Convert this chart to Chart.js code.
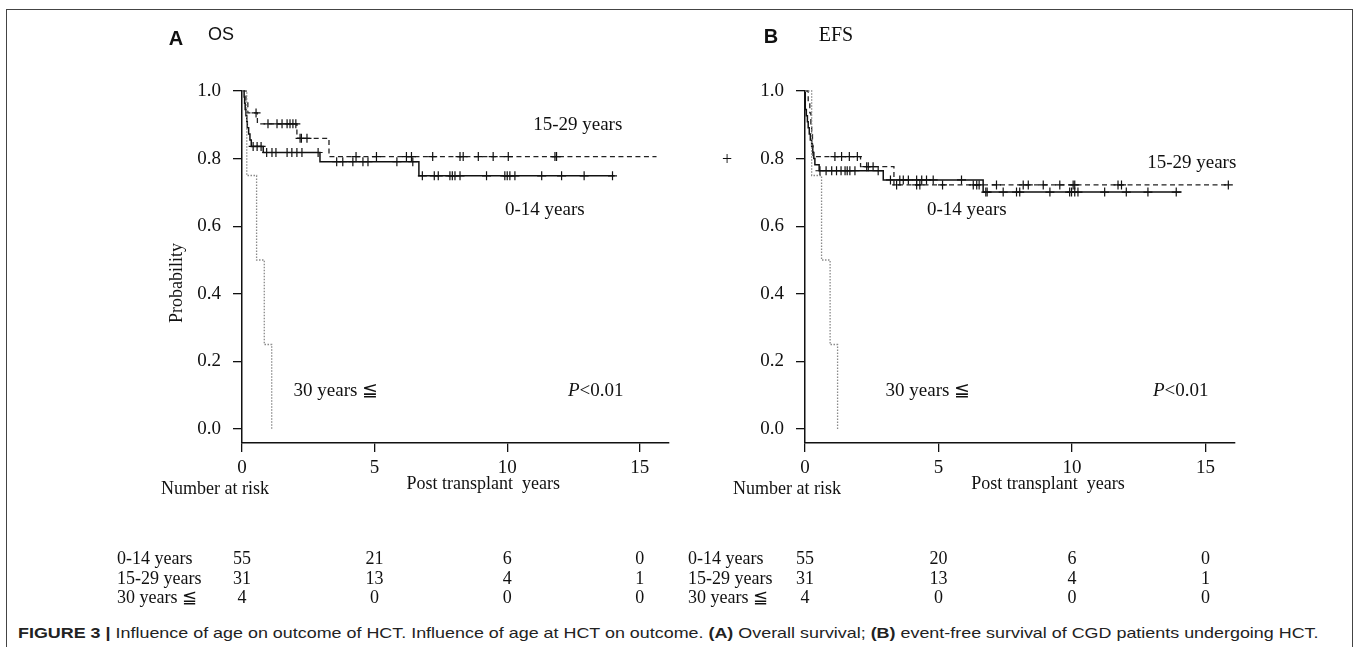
<!DOCTYPE html>
<html>
<head>
<meta charset="utf-8">
<script src="https://cdn.jsdelivr.net/npm/chart.js@4.4.1/dist/chart.umd.min.js"></script>
<style>
  html, body { margin: 0; padding: 0; background: #fff; }
  #page { position: relative; width: 1357px; height: 647px; overflow: hidden; font-family: "Liberation Serif", serif; color: #111; }
  #frame { position: absolute; left: 6px; top: 9px; width: 1345px; height: 700px; border: 1px solid #444; border-bottom: none; }
  canvas { position: absolute; top: 0; }
  .t { position: absolute; white-space: nowrap; line-height: 1; transform: translate(-50%, -50%); }
  .l { position: absolute; white-space: nowrap; line-height: 1; transform: translate(0, -50%); }
  #caption { position: absolute; left: 18px; top: 624px; white-space: nowrap; font-family: "Liberation Sans", sans-serif; font-size: 15px; color: #222; transform-origin: 0 0; }
</style>
</head>
<body>
<div id="page">
  <div id="frame"></div>
  <canvas id="chartA" width="680" height="620" style="left:0"></canvas>
  <canvas id="chartB" width="677" height="620" style="left:680px"></canvas>
  <div id="caption"><b>FIGURE 3 |</b> Influence of age on outcome of HCT. Influence of age at HCT on outcome. <b>(A)</b> Overall survival; <b>(B)</b> event-free survival of CGD patients undergoing HCT.</div>
</div>
<script>
// axis ticks and groups
const years = [0, 5, 10, 15];
const yTicks = [0, 0.2, 0.4, 0.6, 0.8, 1.0];
const groups = ['0-14 years', '15-29 years', '30 years \u2266'];

// OS: step times / survival, censor times
const osT014 = [0, 0.08, 0.1, 0.12, 0.15, 0.18, 0.2, 0.25, 0.3, 0.35, 0.8, 2.94, 6.67, 14.05];
const osS014 = [1, 0.982, 0.964, 0.945, 0.927, 0.909, 0.891, 0.873, 0.855, 0.836, 0.818, 0.791, 0.749, 0.749];
const osC014 = [0.42, 0.57, 0.72, 0.93, 1.13, 1.28, 1.7, 1.88, 2.07, 2.26, 2.87, 3.57, 3.8, 4.18, 4.56, 4.75, 5.84, 6.44,
  6.8, 7.25, 7.4, 7.84, 7.93, 8.03, 8.22, 9.22, 9.91, 10.0, 10.1, 10.29, 11.3, 12.05, 12.9, 13.97];
const osT1529 = [0, 0.15, 0.22, 0.58, 2.07, 3.28, 15.63];
const osS1529 = [1, 0.968, 0.935, 0.903, 0.86, 0.806, 0.806];
const osC1529 = [0.53, 0.98, 1.32, 1.51, 1.7, 1.81, 1.92, 2.03, 2.19, 2.24, 2.45, 4.3, 5.07, 6.2, 6.39, 7.19,
  8.22, 8.34, 8.91, 9.47, 10.04, 11.8, 11.86];
const osT30 = [0, 0.18, 0.55, 0.84, 1.12];
const osS30 = [1, 0.75, 0.5, 0.25, 0];

// EFS
const efsT014 = [0, 0.01, 0.05, 0.09, 0.12, 0.16, 0.2, 0.25, 0.29, 0.33, 0.37, 0.53, 2.93, 6.67, 14.1];
const efsS014 = [1, 0.945, 0.927, 0.909, 0.891, 0.873, 0.855, 0.836, 0.818, 0.8, 0.782, 0.764, 0.737, 0.701, 0.701];
const efsC014 = [0.56, 0.79, 1.0, 1.18, 1.35, 1.5, 1.58, 1.68, 1.87, 2.74, 3.2, 3.55, 3.68, 3.87, 4.18, 4.37, 4.55, 4.8, 5.86,
  6.77, 6.82, 7.42, 7.92, 8.04, 9.17, 9.91, 9.98, 10.1, 10.22, 11.22, 12.03, 12.84, 13.9];
const efsT1529 = [0, 0.12, 0.18, 0.22, 0.25, 0.28, 0.3, 2.08, 3.33, 15.85];
const efsS1529 = [1, 0.968, 0.935, 0.903, 0.871, 0.839, 0.806, 0.776, 0.722, 0.722];
const efsC1529 = [1.12, 1.37, 1.66, 1.96, 2.31, 2.37, 2.55, 3.43, 4.18, 4.3, 5.15, 6.3, 6.43, 6.52, 7.17, 8.17, 8.36,
  8.92, 9.54, 10.04, 10.1, 11.72, 11.85, 15.85];
const efsT30 = [0, 0.25, 0.62, 0.94, 1.22];
const efsS30 = [1, 0.75, 0.5, 0.25, 0];

// number at risk
const riskOs014 = [55, 21, 6, 0];
const riskOs1529 = [31, 13, 4, 1];
const riskOs30 = [4, 0, 0, 0];
const riskEfs014 = [55, 20, 6, 0];
const riskEfs1529 = [31, 13, 4, 1];
const riskEfs30 = [4, 0, 0, 0];

function stepAt(ts, ss, t) {
  let v = ss[0];
  for (let i = 0; i < ts.length; i++) if (ts[i] <= t) v = ss[i];
  return v;
}
const curve = (ts, ss) => ts.map((t, i) => ({ x: t, y: ss[i] }));
const marks = (cs, ts, ss) => cs.map(t => ({ x: t, y: stepAt(ts, ss, t) }));

const solid = { borderColor: '#111', borderWidth: 1.5 };
const dashed = { borderColor: '#222', borderWidth: 1.3, borderDash: [5, 3.5] };
const dotted = { borderColor: '#8a8a8a', borderWidth: 1.3, borderDash: [1.5, 1.5] };

function lineSet(pts, style) {
  return Object.assign({ type: 'line', data: pts, stepped: true, pointRadius: 0, fill: false, clip: false, order: 2 }, style);
}
function markSet(pts) {
  return { type: 'scatter', data: pts, pointStyle: 'cross', pointRadius: 4.5, borderColor: '#111', borderWidth: 1.2, clip: false, order: 1 };
}

const tickFont = { family: 'Liberation Serif', size: 19 };

function makeChart(id, sets, padLeft, padRight) {
  return new Chart(document.getElementById(id), {
    type: 'scatter',
    data: { datasets: sets },
    options: {
      responsive: false,
      animation: false,
      events: [],
      layout: { padding: { left: padLeft, right: padRight, top: 91, bottom: 137 } },
      plugins: { legend: { display: false }, tooltip: { enabled: false } },
      scales: {
        x: {
          type: 'linear', min: 0, max: 16.1,
          afterFit: s => { s.height = 40; },
          afterBuildTicks: s => { s.ticks = years.map(v => ({ value: v })); },
          grid: { drawOnChartArea: false, tickLength: 9, color: '#111', lineWidth: 1.3 },
          border: { color: '#111', width: 1.5 },
          ticks: { font: tickFont, color: '#111', padding: 5, maxRotation: 0, autoSkip: false, callback: v => String(v) }
        },
        y: {
          type: 'linear', min: -0.0414, max: 1.0,
          afterFit: s => { s.width = 60; },
          afterBuildTicks: s => { s.ticks = yTicks.map(v => ({ value: v })); },
          grid: { drawOnChartArea: false, tickLength: 9, color: '#111', lineWidth: 1.3 },
          border: { color: '#111', width: 1.5 },
          ticks: { font: tickFont, color: '#111', padding: 12, autoSkip: false, callback: v => v.toFixed(1) }
        }
      }
    }
  });
}

const chartA = makeChart('chartA', [
  lineSet(curve(osT30, osS30), dotted),
  lineSet(curve(osT1529, osS1529), dashed),
  lineSet(curve(osT014, osS014), solid),
  markSet(marks(osC1529, osT1529, osS1529)),
  markSet(marks(osC014, osT014, osS014))
], 182, 11);

const chartB = makeChart('chartB', [
  lineSet(curve(efsT30, efsS30), dotted),
  lineSet(curve(efsT1529, efsS1529), dashed),
  lineSet(curve(efsT014, efsS014), solid),
  markSet(marks(efsC1529, efsT1529, efsS1529)),
  markSet(marks(efsC014, efsT014, efsS014))
], 65, 122);

// text
const page = document.getElementById('page');
function put(html, x, y, cls, style) {
  const d = document.createElement('div');
  d.className = cls || 't';
  d.innerHTML = html;
  d.style.left = x + 'px';
  d.style.top = y + 'px';
  Object.assign(d.style, style || {});
  page.appendChild(d);
  return d;
}
const px = (chart, off, t) => off + chart.scales.x.getPixelForValue(t);
const py = (chart, s) => chart.scales.y.getPixelForValue(s);

function annotate(chart, off, o) {
  const f19 = { fontSize: '19px' };
  put('15-29 years', px(chart, off, o.a[0]), py(chart, o.a[1]), 't', f19);
  put('0-14 years', px(chart, off, o.b[0]), py(chart, o.b[1]), 't', f19);
  put('30 years \u2266', px(chart, off, o.c[0]), py(chart, o.c[1]), 't', f19);
  put('<i>P</i>&lt;0.01', px(chart, off, o.p[0]), py(chart, o.p[1]), 't', f19);
  put('Probability', o.probX, 283, 't', { fontSize: '18px', transform: 'translate(-50%,-50%) rotate(-90deg)' });
  put('Post transplant&nbsp; years', px(chart, off, 9.1), 483, 't', { fontSize: '18px' });
  put('Number at risk', o.numX, 488, 't', { fontSize: '18px' });
  const rows = [o.r1, o.r2, o.r3];
  const rowY = [558, 578, 597];
  rows.forEach((r, i) => {
    put(groups[i], o.grpX, rowY[i], 'l', { fontSize: '18px' });
    r.forEach((n, j) => put(String(n), px(chart, off, years[j]), rowY[i], 't', { fontSize: '18px' }));
  });
}

annotate(chartA, 0, {
  a: [12.66, 0.905], b: [11.42, 0.654], c: [3.54, 0.118], p: [13.34, 0.118],
  probX: 176, numX: 215, grpX: 117,
  r1: riskOs014, r2: riskOs1529, r3: riskOs30
});
annotate(chartB, 680, {
  a: [14.48, 0.794], b: [6.06, 0.653], c: [4.6, 0.118], p: [14.07, 0.118],
  probX: -100, numX: 787, grpX: 688,
  r1: riskEfs014, r2: riskEfs1529, r3: riskEfs30
});

put('A', 176, 38, 't', { fontFamily: '"Liberation Sans", sans-serif', fontWeight: 'bold', fontSize: '20px' });
put('OS', 221, 34, 't', { fontFamily: '"Liberation Sans", sans-serif', fontSize: '18px' });
put('B', 771, 36, 't', { fontFamily: '"Liberation Sans", sans-serif', fontWeight: 'bold', fontSize: '20px' });
put('EFS', 836, 34, 't', { fontSize: '20px' });
put('+', 727, 159, 't', { fontSize: '18px' });

// squeeze caption into its line
const cap = document.getElementById('caption');
cap.style.transform = 'scaleX(' + (1300 / cap.offsetWidth) + ')';
</script>
</body>
</html>
